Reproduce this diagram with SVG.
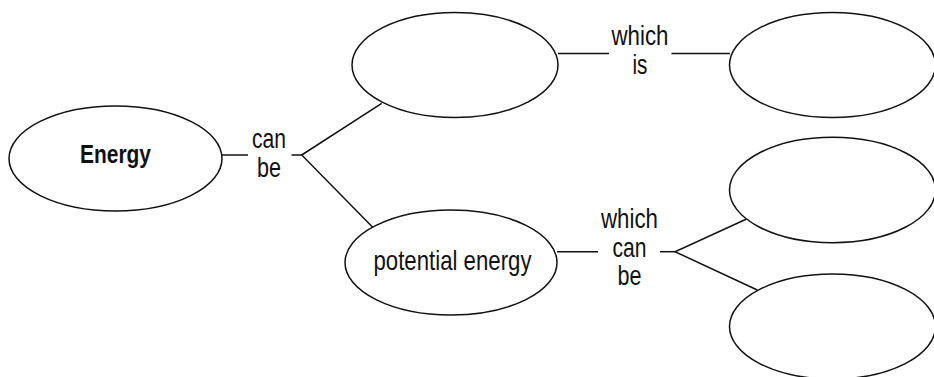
<svg xmlns="http://www.w3.org/2000/svg" width="934" height="377" viewBox="0 0 934 377">
<style>
.node{fill:#fff;stroke:#111;stroke-width:1.5}
.edge{fill:none;stroke:#111;stroke-width:1.5}
text{font-family:"Liberation Sans",Arial,sans-serif;font-size:28px;fill:#111;text-anchor:middle}
.bold{font-weight:bold;font-size:26px}
</style>
<rect width="934" height="377" fill="#fff"/>
<g id="connectors">
<line class="edge" x1="222" y1="155" x2="248" y2="155"/>
<polyline class="edge" points="381.7,103.3 301.7,155 372.7,227.3"/>
<line class="edge" x1="291.5" y1="155" x2="301.7" y2="155"/>
<line class="edge" x1="558" y1="53.5" x2="609" y2="53.5"/>
<line class="edge" x1="671.5" y1="53.5" x2="730" y2="53.5"/>
<line class="edge" x1="557" y1="251.7" x2="598" y2="251.7"/>
<line class="edge" x1="660" y1="251.7" x2="675" y2="251.7"/>
<polyline class="edge" points="746,219.3 675,251.7 757.3,290"/>
<text x="269" y="148" textLength="34" lengthAdjust="spacingAndGlyphs">can</text>
<text x="269" y="176.5" textLength="24" lengthAdjust="spacingAndGlyphs">be</text>
<text x="640" y="44.5" textLength="57" lengthAdjust="spacingAndGlyphs">which</text>
<text x="640" y="74" textLength="15" lengthAdjust="spacingAndGlyphs">is</text>
<text x="629.5" y="228" textLength="57" lengthAdjust="spacingAndGlyphs">which</text>
<text x="629.5" y="256.5" textLength="34" lengthAdjust="spacingAndGlyphs">can</text>
<text x="629.5" y="285" textLength="24" lengthAdjust="spacingAndGlyphs">be</text>
</g>
<g id="energy">
<ellipse class="node" cx="115.5" cy="158.5" rx="106.5" ry="52.5"/>
<text class="bold" x="115.5" y="163" textLength="71" lengthAdjust="spacingAndGlyphs">Energy</text>
</g>
<g id="kind1">
<ellipse class="node" cx="455" cy="65" rx="103" ry="52.5"/>
</g>
<g id="kind1-is">
<ellipse class="node" cx="832.5" cy="65" rx="103" ry="52.5"/>
</g>
<g id="potential">
<ellipse class="node" cx="451" cy="262.5" rx="106" ry="52.5"/>
<text x="452.5" y="270" textLength="158" lengthAdjust="spacingAndGlyphs">potential energy</text>
</g>
<g id="potential-a">
<ellipse class="node" cx="832.5" cy="190" rx="103" ry="52.7"/>
</g>
<g id="potential-b">
<ellipse class="node" cx="832.5" cy="326.5" rx="103" ry="52.5"/>
</g>
</svg>
